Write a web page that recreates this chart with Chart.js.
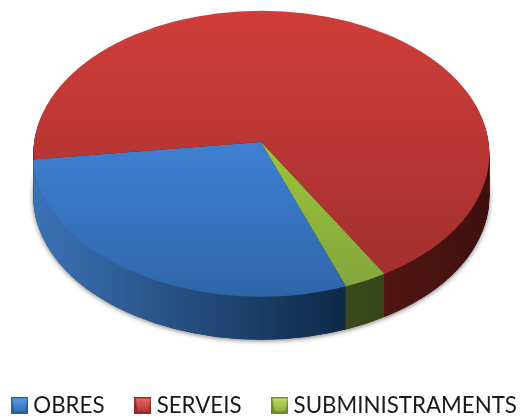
<!DOCTYPE html>
<html>
<head>
<meta charset="utf-8">
<style>html,body{margin:0;padding:0;background:#fff}canvas{display:block}</style>
<script src="https://cdn.jsdelivr.net/npm/chart.js@4"></script>
</head>
<body>
<canvas id="c" width="523" height="416"></canvas>
<script>
const categories = ['OBRES', 'SERVEIS', 'SUBMINISTRAMENTS'];
const shareValues = [28.7, 68.5, 2.8];
const topStops = [['#3f80d2', '#2f66aa'], ['#d03d3a', '#a3302e'], ['#9cc63a', '#83a43d']];
const wallStops = [['#3a72b6', '#0f2947'], ['#521614', '#3e100e'], ['#3a4a1b', '#35451a']];
const wallRange = [[34, 345], [384, 490], [345, 384]];
const topRange = [[142, 296], [10, 276], [142, 292]];
const iconStops = [['#5aa0ea', '#2c5f9e'], ['#ee6a66', '#8f2a28'], ['#c2e060', '#6f8c2c']];

// picture geometry of the tilted disc
const apexX = 261, apexY = 142, scaleX = 1.15, tilt = 0.627;
const scaleY = scaleX * tilt;
const discX = 261.3, discY = 153.7, discRx = 228, discRy = 143, depth = 43;

function chartCenter(chart) {
  const a = chart.chartArea || {left: 0, right: 523, top: 0, bottom: 380};
  return {x: (a.left + a.right) / 2, y: (a.top + a.bottom) / 2};
}
function topFill(ctx) {
  const chart = ctx.chart, i = ctx.dataIndex, c = chartCenter(chart);
  const r = topRange[i];
  const g = chart.ctx.createLinearGradient(0, c.y + (r[0] - apexY) / scaleY, 0, c.y + (r[1] - apexY) / scaleY);
  g.addColorStop(0, topStops[i][0]);
  g.addColorStop(1, topStops[i][1]);
  return g;
}
function wallFill(chart, i, c) {
  const r = wallRange[i];
  const g = chart.ctx.createLinearGradient(c.x + (r[0] - apexX) / scaleX, 0, c.x + (r[1] - apexX) / scaleX, 0);
  g.addColorStop(0, wallStops[i][0]);
  g.addColorStop(1, wallStops[i][1]);
  return g;
}
function discPath(ctx) {
  ctx.beginPath();
  ctx.ellipse(discX, discY, discRx, discRy, 0, 0, Math.PI * 2);
}
function applyTilt(ctx, c) {
  ctx.translate(apexX, apexY);
  ctx.scale(scaleX, scaleY);
  ctx.translate(-c.x, -c.y);
}
function makeIcon(i) {
  const w = 17, h = 17, cv = document.createElement('canvas');
  cv.width = w; cv.height = h;
  const x = cv.getContext('2d');
  const [light, dark] = iconStops[i];
  x.fillStyle = dark;
  x.fillRect(0, 0, w, h);
  const g = x.createLinearGradient(0, 0, 0, h);
  g.addColorStop(0, light);
  g.addColorStop(1, topStops[i][1]);
  x.fillStyle = g;
  x.beginPath();
  x.moveTo(1, 1); x.lineTo(w - 1, 1); x.lineTo(w - 3, h - 3); x.lineTo(3, h - 3);
  x.closePath();
  x.fill();
  return cv;
}

const tiltedPie = {
  id: 'tiltedPie',
  afterInit(chart) {
    // the legend row is as wide as the window: keep it on a single line
    const lg = chart.legend, fit = lg._fitRows, paint = lg._draw;
    lg._fitRows = function () {
      const m = this.maxWidth;
      this.maxWidth = 700;
      const res = fit.apply(this, arguments);
      this.maxWidth = m;
      return res;
    };
    lg._draw = function () {
      const l = this.left, r = this.right;
      this.left = l - 100;
      this.right = r + 100;
      paint.apply(this, arguments);
      this.left = l;
      this.right = r;
    };
  },
  beforeDatasetsDraw(chart) {
    const ctx = chart.ctx, c = chartCenter(chart);
    const arcs = chart.getDatasetMeta(0).data;
    // soft shadow under the disc
    ctx.save();
    ctx.shadowColor = 'rgba(0,0,0,0.55)';
    ctx.shadowBlur = 5;
    ctx.shadowOffsetY = 1;
    ctx.fillStyle = '#333';
    ctx.translate(0, depth);
    discPath(ctx);
    ctx.fill();
    ctx.restore();
    // side wall
    for (let d = depth; d >= 1; d--) {
      ctx.save();
      ctx.translate(0, d);
      discPath(ctx);
      ctx.clip();
      applyTilt(ctx, c);
      arcs.forEach((arc, i) => {
        const base = arc.options;
        const o = Object.create(base);
        o.backgroundColor = wallFill(chart, i, c);
        arc.options = o;
        arc.draw(ctx);
        arc.options = base;
      });
      ctx.restore();
    }
    // top face is drawn by Chart.js under this transform
    ctx.save();
    discPath(ctx);
    ctx.clip();
    applyTilt(ctx, c);
  },
  afterDatasetsDraw(chart) {
    chart.ctx.restore();
  }
};

new Chart(document.getElementById('c'), {
  type: 'pie',
  data: {
    labels: categories,
    datasets: [{
      data: shareValues,
      backgroundColor: topFill,
      borderWidth: 0,
      clip: false
    }]
  },
  options: {
    responsive: false,
    animation: false,
    events: [],
    rotation: 159.7,
    radius: 228,
    layout: {padding: {left: 11, bottom: -11}},
    plugins: {
      tooltip: {enabled: false},
      legend: {
        position: 'bottom',
        labels: {
          usePointStyle: true,
          pointStyleWidth: 5,
          padding: 36,
          color: '#1a1a1a',
          font: {family: 'Lato', size: 22.3},
          generateLabels: () => categories.map((t, i) => ({
            text: t, index: i, hidden: false, lineWidth: 0,
            fontColor: '#1a1a1a', pointStyle: makeIcon(i)
          }))
        }
      }
    }
  },
  plugins: [tiltedPie]
});
</script>
</body>
</html>
